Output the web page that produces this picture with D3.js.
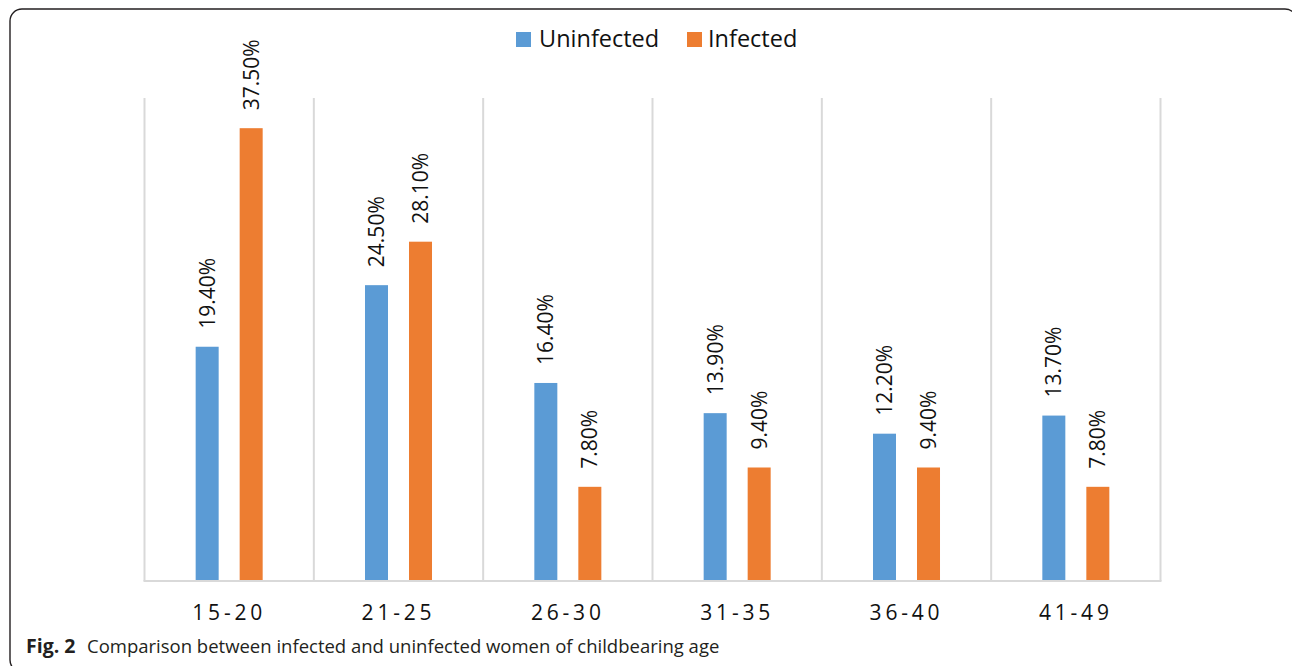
<!DOCTYPE html>
<html>
<head>
<meta charset="utf-8">
<script src="https://cdn.jsdelivr.net/npm/d3@7"></script>
<style>
  html, body { margin: 0; padding: 0; background: #fff; }
  svg { display: block; }
  text { font-family: "Open Sans", "DejaVu Sans", sans-serif; }
</style>
</head>
<body>
<svg id="chart" width="1292" height="666"></svg>
<script>
// Age groups and share of women (%) in each group
const ageGroups = ["15-20", "21-25", "26-30", "31-35", "36-40", "41-49"];
const seriesNames = ["Uninfected", "Infected"];
const uninfected = [19.4, 24.5, 16.4, 13.9, 12.2, 13.7];
const infected = [37.5, 28.1, 7.8, 9.4, 9.4, 7.8];
const seriesColors = ["#5b9bd5", "#ed7d31"];

const rows = ageGroups.map((g, i) => ({ group: g, values: [uninfected[i], infected[i]] }));

const svg = d3.select("#chart");

// Figure frame (extends past the right and bottom edges)
svg.append("rect")
  .attr("x", 10).attr("y", 9)
  .attr("width", 1287).attr("height", 663)
  .attr("rx", 12).attr("ry", 12)
  .attr("fill", "none")
  .attr("stroke", "#231f20")
  .attr("stroke-width", 1.4);

const x0 = d3.scaleBand().domain(ageGroups).range([144.5, 1160.5]).padding(0);
const x1 = d3.scaleBand().domain(seriesNames).range([0, x0.bandwidth()])
  .paddingInner(0.4773).paddingOuter(1.1627);
const y = d3.scaleLinear().domain([0, 40]).range([581, 98]);
const color = d3.scaleOrdinal().domain(seriesNames).range(seriesColors);

// Vertical separators between age groups
const boundaries = ageGroups.map(g => x0(g)).concat([x0.range()[1]]);
svg.append("g").selectAll("line")
  .data(boundaries)
  .join("line")
  .attr("x1", d => d).attr("x2", d => d)
  .attr("y1", y(40)).attr("y2", y(0))
  .attr("stroke", "#d9d9d9")
  .attr("stroke-width", 2);

// Bars
const groups = svg.append("g").selectAll("g")
  .data(rows)
  .join("g")
  .attr("transform", d => `translate(${x0(d.group)},0)`);

groups.selectAll("rect")
  .data(d => d.values.map((v, i) => ({ key: seriesNames[i], value: v })))
  .join("rect")
  .attr("x", d => x1(d.key))
  .attr("y", d => y(d.value))
  .attr("width", x1.bandwidth())
  .attr("height", d => y(0) - y(d.value))
  .attr("fill", d => color(d.key));

// Value labels, rotated
groups.selectAll("text")
  .data(d => d.values.map((v, i) => ({ key: seriesNames[i], value: v })))
  .join("text")
  .attr("transform", d => `translate(${x1(d.key) + x1.bandwidth() / 2 + 7.5},${y(d.value) - 18}) rotate(-90)`)
  .attr("text-anchor", "start")
  .attr("font-size", 21)
  .attr("fill", "#111")
  .text(d => d.value.toFixed(2) + "%");

// Baseline
svg.append("line")
  .attr("x1", x0.range()[0] - 1).attr("x2", x0.range()[1] + 1)
  .attr("y1", y(0)).attr("y2", y(0))
  .attr("stroke", "#d9d9d9")
  .attr("stroke-width", 2);

// Category labels
const xAxis = svg.append("g")
  .attr("transform", `translate(0,${y(0)})`)
  .call(d3.axisBottom(x0).tickSize(0).tickPadding(0));
xAxis.select(".domain").remove();
xAxis.selectAll("text")
  .attr("y", 39).attr("dy", 0)
  .attr("dx", 0)
  .attr("font-family", "\"Open Sans\", sans-serif")
  .attr("font-size", 21)
  .attr("letter-spacing", "3.8px")
  .attr("fill", "#111");

// Legend
const legendItems = [
  { key: "Uninfected", sx: 516, tx: 539 },
  { key: "Infected", sx: 687, tx: 708 }
];
const legend = svg.append("g");
legend.selectAll("rect")
  .data(legendItems)
  .join("rect")
  .attr("x", d => d.sx).attr("y", 32)
  .attr("width", 15).attr("height", 15)
  .attr("fill", d => color(d.key));
legend.selectAll("text")
  .data(legendItems)
  .join("text")
  .attr("x", d => d.tx).attr("y", 47)
  .attr("font-size", 23.5)
  .attr("fill", "#111")
  .text(d => d.key);

// Figure caption
const caption = svg.append("text")
  .attr("x", 26).attr("y", 653)
  .attr("font-size", 18.5)
  .attr("fill", "#231f20");
caption.append("tspan").attr("font-weight", "bold").attr("font-size", 19.5).text("Fig. 2");
caption.append("tspan").attr("x", 87)
  .text("Comparison between infected and uninfected women of childbearing age");
</script>
</body>
</html>
